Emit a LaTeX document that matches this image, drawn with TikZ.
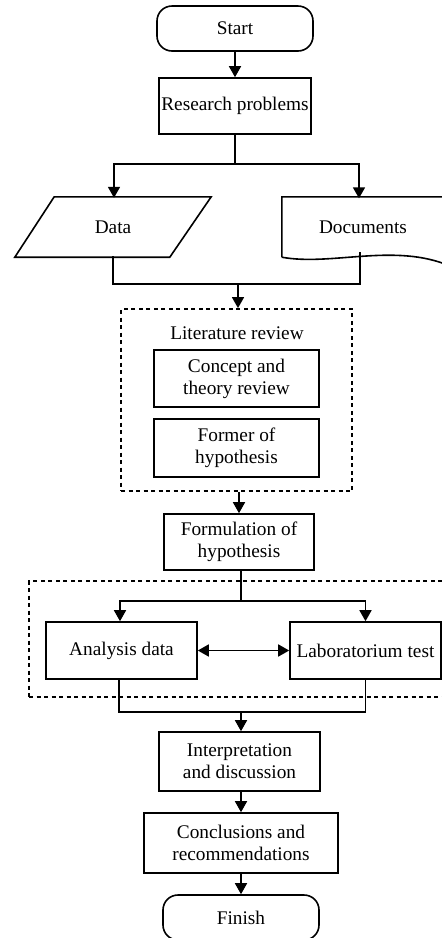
\documentclass[tikz,border=0pt]{standalone}
\usepackage{fontspec}
\setmainfont{Liberation Serif}
\usetikzlibrary{arrows.meta,calc}
\begin{document}
\begin{tikzpicture}[x=1pt,y=-1pt,
  every node/.style={font=\fontsize{19.3}{22}\selectfont, inner sep=0pt, align=center},
  box/.style={draw, line width=1.6pt, minimum width=#1},
  term/.style={draw, line width=1.6pt, rounded corners=15pt, minimum width=156pt, minimum height=45pt},
  dbox/.style={draw, line width=1.8pt, dash pattern=on 4pt off 3.5pt},
  ln/.style={line width=1.6pt},
  arr/.style={line width=1.6pt, -{Triangle[length=11pt,width=12pt]}},
  darr/.style={line width=1.6pt, {Triangle[length=11pt,width=12pt]}-{Triangle[length=11pt,width=12pt]}}
]
\useasboundingbox (0,0) rectangle (442,938);
\fill[white] (0,0) rectangle (442,938);

\node[term] (start) at (235,28.5) {Start};
\node[box=152pt, minimum height=56pt] (research) at (235,106) {Research problems};

% Data parallelogram
\node[minimum width=196pt, minimum height=58pt] (data) at (113,227) {Data};
\draw[ln] ([yshift=-1pt]data.south west) -- ++(155,0) -- ([yshift=1pt]data.north east) -- ++(-157,0) -- cycle;

% Documents
\node[minimum width=162pt, minimum height=57pt] (doc) at (363,227) {Documents};
\draw[ln] ([yshift=-1.5pt]doc.south west) -- ([yshift=1.5pt]doc.north west) -- ([yshift=1.5pt]doc.north east) -- ([yshift=-8pt]doc.south east)
  .. controls (390,244) and (330,266) .. ([yshift=-1.5pt]doc.south west);

\draw[arr] (start) -- (research);
\draw[ln] (research.south) -- ++(0,29) coordinate (s1);
\draw[arr] (s1) -| ([xshift=1pt]data.north);
\draw[arr] (s1) -| ([xshift=-4pt]doc.north);
\coordinate (m1) at (238,284);
\coordinate (docb) at (360,252);
\draw[ln] (data.south) |- (m1) -| (docb);

% Literature review group
\node[dbox, minimum width=231pt, minimum height=182pt] (lit) at (236.5,400) {};
\node (littitle) at (237,333) {Literature review};
\node[box=165pt, minimum height=57pt] (concept) at (236.5,378.5) {Concept and\\theory review};
\node[box=165pt, minimum height=58pt] (former) at (236.5,448) {Former of\\hypothesis};
\draw[arr] (m1) -- (m1 |- lit.north);

\node[box=150pt, minimum height=56pt] (form) at (239,542) {Formulation of\\hypothesis};
\draw[arr] (lit.south -| form.north) -- (form.north);

% Analysis group
\node[dbox, minimum width=441pt, minimum height=116pt] (grp) at (249.5,639) {};
\node[box=151pt, minimum height=57pt] (ana) at (121.5,650.5) {Analysis data};
\node[box=151pt, minimum height=57pt] (lab) at (365.5,650.5) {Laboratorium test};
\draw[ln] ([xshift=2pt]form.south) -- ++(0,30) coordinate (s2);
\draw[arr] (s2) -| ([xshift=-1.5pt]ana.north);
\draw[arr] (s2) -| (lab.north);
\draw[darr] (ana.east) -- (lab.west);
\coordinate (m2) at (241,712);
\draw[ln] ([xshift=-2.5pt]ana.south) |- (m2) -| (lab.south);

\node[box=161pt, minimum height=59pt] (interp) at (239.5,761.5) {Interpretation\\and discussion};
\draw[arr] (m2) -- (m2 |- interp.north);
\node[box=194pt, minimum height=60pt] (concl) at (241,843) {Conclusions and\\recommendations};
\draw[arr] (interp.south -| concl.north) -- (concl.north);
\node[term] (finish) at (241,917.5) {Finish};
\draw[arr] (concl) -- (finish);
\end{tikzpicture}
\end{document}
